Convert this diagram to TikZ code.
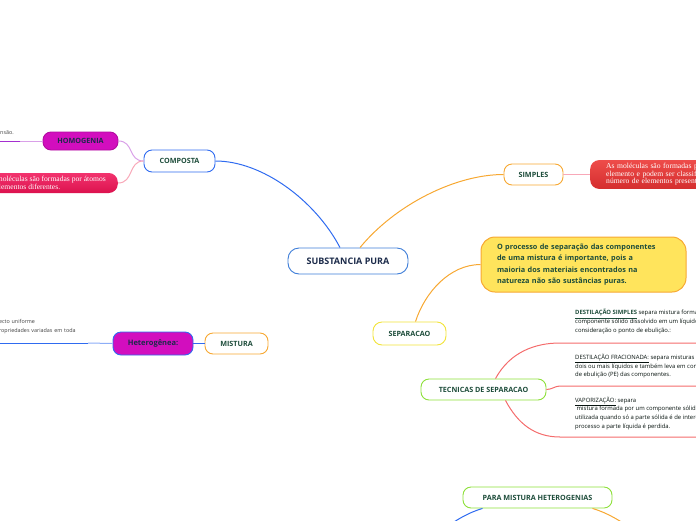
\documentclass[tikz,border=0pt]{standalone}
\usepackage{fontspec}
\setmainfont{Open Sans}
\newfontfamily\notefont{Liberation Serif}
\usetikzlibrary{positioning}
\definecolor{txtgreen}{HTML}{1E4D3B}
\definecolor{txtnavy}{HTML}{1C2B4A}
\definecolor{mblue}{HTML}{2F6BF0}
\definecolor{lblue}{HTML}{3D7DD8}
\definecolor{orangel}{HTML}{F7A832}
\definecolor{yellowb}{HTML}{F2E33A}
\definecolor{yellowf}{HTML}{FFE45C}
\definecolor{lgreen}{HTML}{8DE03A}
\definecolor{magentaf}{HTML}{D20EBE}
\definecolor{purplel}{HTML}{D9A0E8}
\definecolor{purpled}{HTML}{A52FD0}
\definecolor{pinkl}{HTML}{F8A8B8}
\definecolor{redl}{HTML}{F46C6C}
\definecolor{crimtop}{HTML}{F2336E}
\definecolor{crimbot}{HTML}{DC124E}
\definecolor{redtop}{HTML}{EE4C4A}
\definecolor{redbot}{HTML}{D42E2E}

\begin{document}
\begin{tikzpicture}[x=1pt,y=-1pt,
  every node/.style={font=\bfseries\fontsize{7.2}{9}\selectfont,text=txtgreen,align=center},
  topic/.style={draw,fill=white,rounded corners=8pt,line width=0.9pt,inner sep=0pt,minimum height=21pt},
  filled/.style={rounded corners=8pt,inner sep=0pt,line width=0.9pt},
  sidenote/.style={font=\fontsize{5.4}{8.6}\selectfont,text=black!75,align=left,inner ysep=6pt},
  technote/.style={font=\fontsize{5.9}{8.7}\selectfont,text=black!75!txtgreen,align=left,anchor=south west,inner xsep=15pt},
  redtext/.style={font=\notefont\fontsize{7.6}{7.6}\selectfont,text=white,align=left,rounded corners=9pt},
  link/.style={line width=1pt}]
\useasboundingbox (0,0) rectangle (696,520);
\clip (0,0) rectangle (696,520);

% central topic and main branches
\node[topic,draw=lblue,text=txtnavy,minimum width=120pt,minimum height=26pt,rounded corners=11pt,font=\bfseries\fontsize{9}{10}\selectfont] (pura) at (348,261) {SUBSTANCIA PURA};
\node[topic,draw=mblue,minimum width=71pt,minimum height=22pt] (comp) at (179.5,161) {COMPOSTA};
\node[topic,draw=orangel,minimum width=59pt] (simp) at (533.5,174.5) {SIMPLES};
\node[topic,draw=yellowb,minimum width=73pt,minimum height=23pt,rounded corners=9pt] (sep) at (409.5,333.5) {SEPARACAO};
\node[topic,draw=lgreen,minimum width=125pt] (tec) at (483.5,389.5) {TECNICAS DE SEPARACAO};
\node[topic,draw=orangel,minimum width=63pt] (mist) at (236.5,343.5) {MISTURA};
\node[topic,draw=lgreen,minimum width=149pt] (pmh) at (537.5,497.5) {PARA MISTURA HETEROGENIAS};

% sub topics
\node[filled,fill=magentaf,draw=magentaf!85!black,text=txtnavy,minimum width=75pt,minimum height=18pt] (homog) at (80.5,141) {HOMOGENIA};
\node[filled,fill=magentaf,draw=mblue,text=txtnavy,minimum width=80pt,minimum height=23pt,font=\bfseries\fontsize{7.5}{9}\selectfont] (het) at (153,343.5) {Heterogênea:};
\node[redtext,top color=crimtop,bottom color=crimbot,anchor=east,minimum height=20pt,inner xsep=12pt] (cmol) at (118,183) {As moléculas são formadas por átomos\\de elementos diferentes.};
\node[redtext,top color=redtop,bottom color=redbot,anchor=west,minimum height=27pt,text width=150pt,inner xsep=16pt] (smol) at (590,174.5) {As moléculas são formadas por átomos de um\\elemento e podem ser classificadas de acordo\\número de elementos presentes.};
\node[draw=orangel,fill=yellowf,line width=1pt,rounded corners=14pt,minimum height=55pt,text width=173pt,inner xsep=16pt,align=left,font=\bfseries\fontsize{7.3}{11.4}\selectfont] (sepnote) at (583.5,264.5) {O processo de separação das componentes\\de uma mistura é importante, pois a\\maioria dos materiais encontrados na\\natureza não são sustâncias puras.};

% notes on lines
\node[sidenote,anchor=south west,text width=20pt,inner xsep=0pt] (hmtxt) at (0,141) {nsão.};
\node[sidenote,anchor=south east,text width=92pt,inner xsep=0pt,inner ysep=9pt] (hetnote) at (88,343) {pecto uniforme\\propriedades variadas em toda};
\node[technote,inner ysep=9pt] (dsimp) at (560,343) {\textcolor{txtgreen}{\underline{\textbf{DESTILAÇÃO SIMPLES}}} separa mistura formada por um\\componente sólido dissolvido em um líquido, levando em\\consideração o ponto de ebulição.:};
\node[technote,inner ysep=7.5pt] (dfrac) at (560,386) {\underline{DESTILAÇÃO FRACIONADA:} separa misturas de\\dois ou mais líquidos e também leva em conta o ponto\\de ebulição (PE) das componentes.};
\node[technote,inner ysep=7pt] (vapo) at (560,437) {\underline{VAPORIZAÇÃO:} separa\\\ mistura formada por um componente sólido dissolvido\\utilizada quando só a parte sólida é de interesse, neste\\processo a parte líquida é perdida.};
\coordinate (offl) at (440,532);
\coordinate (offr) at (636,532);

% connectors
\draw[link,mblue] ([xshift=-8pt]pura.north) .. controls (315,200) and (262,161) .. (comp.east);
\draw[link,orangel] ([xshift=12pt]pura.north) .. controls (395,205) and (455,174.5) .. (simp.west);
\draw[link,purplel] (comp.west) .. controls (128,161) and (134,141) .. (homog.east);
\draw[link,pinkl] (comp.west) .. controls (128,161) and (134,183) .. (cmol.east);
\draw[link,pinkl] (simp.east) -- (smol.west);
\draw[link,orangel] ([xshift=6pt]sep.north) .. controls (425,292) and (450,264.5) .. (sepnote.west);
\draw[link,redl] ([xshift=12pt]tec.north) .. controls (510,352) and (535,343) .. (dsimp.south west) -- (dsimp.south east);
\draw[link,redl] (tec.east) .. controls (552,389.5) and (555,386) .. (dfrac.south west) -- (dfrac.south east);
\draw[link,redl] ([xshift=22pt]tec.south) .. controls (518,424) and (535,437) .. (vapo.south west) -- (vapo.south east);
\draw[link,purplel] (homog.west) -- (hmtxt.south east);
\draw[link,purpled] (hmtxt.south east) -- (hmtxt.south west);
\draw[link,mblue] (het.east) -- (mist.west);
\draw[link,mblue!55] (het.west) -- (hetnote.south east);
\draw[link,mblue] (hetnote.south east) -- (hetnote.south west);
\draw[link,mblue] ([xshift=-55pt]pmh.south) .. controls (470,512) and (455,520) .. (offl);
\draw[link,orangel] ([xshift=55pt]pmh.south) .. controls (605,512) and (620,520) .. (offr);
\end{tikzpicture}
\end{document}
